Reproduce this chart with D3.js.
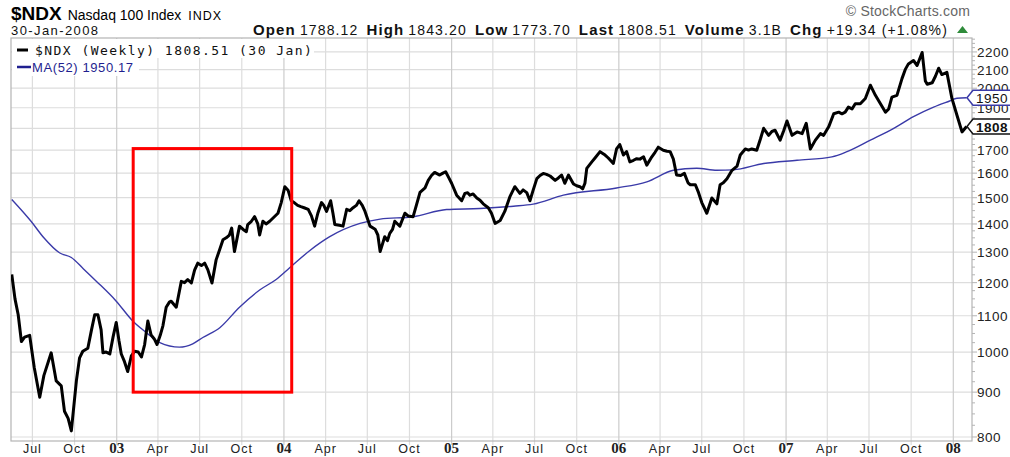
<!DOCTYPE html>
<html><head><meta charset="utf-8">
<script src="https://cdn.jsdelivr.net/npm/d3@7"></script>
<style>body{margin:0;background:#fff}svg{display:block}text{font-family:Arial,"Liberation Sans",sans-serif}</style>
</head><body><div id="chart"></div>
<script>
const ndxDates = ["2002-05-17","2002-05-24","2002-05-31","2002-06-07","2002-06-14","2002-06-25","2002-07-05","2002-07-17","2002-07-26","2002-08-11","2002-08-22","2002-09-02","2002-09-09","2002-09-17","2002-09-24","2002-10-05","2002-10-12","2002-10-19","2002-10-30","2002-11-07","2002-11-14","2002-11-21","2002-11-28","2002-12-02","2002-12-09","2002-12-17","2002-12-24","2002-12-31","2003-01-06","2003-01-11","2003-01-18","2003-01-25","2003-02-02","2003-02-09","2003-02-17","2003-02-24","2003-03-03","2003-03-10","2003-03-17","2003-03-24","2003-03-30","2003-04-06","2003-04-12","2003-04-19","2003-04-26","2003-04-30","2003-05-11","2003-05-22","2003-05-29","2003-06-05","2003-06-13","2003-06-20","2003-06-27","2003-07-05","2003-07-12","2003-07-19","2003-07-28","2003-08-06","2003-08-14","2003-08-21","2003-08-28","2003-09-04","2003-09-09","2003-09-15","2003-09-26","2003-10-04","2003-10-11","2003-10-14","2003-10-22","2003-10-29","2003-11-05","2003-11-09","2003-11-16","2003-11-23","2003-12-01","2003-12-10","2003-12-19","2003-12-26","2004-01-03","2004-01-10","2004-01-17","2004-01-24","2004-01-31","2004-02-07","2004-02-14","2004-02-23","2004-03-01","2004-03-08","2004-03-15","2004-03-23","2004-03-28","2004-04-03","2004-04-12","2004-04-17","2004-04-21","2004-05-01","2004-05-09","2004-05-17","2004-05-24","2004-05-31","2004-06-07","2004-06-13","2004-06-20","2004-06-26","2004-07-07","2004-07-18","2004-07-24","2004-07-29","2004-08-08","2004-08-14","2004-08-19","2004-08-25","2004-08-30","2004-09-05","2004-09-10","2004-09-21","2004-09-28","2004-10-09","2004-10-16","2004-10-24","2004-11-04","2004-11-11","2004-11-18","2004-11-25","2004-12-06","2004-12-13","2004-12-19","2004-12-26","2005-01-01","2005-01-12","2005-01-23","2005-01-30","2005-02-05","2005-02-10","2005-02-17","2005-02-25","2005-03-04","2005-03-11","2005-03-22","2005-03-29","2005-04-06","2005-04-17","2005-04-27","2005-05-08","2005-05-19","2005-05-30","2005-06-06","2005-06-14","2005-06-21","2005-06-28","2005-07-06","2005-07-13","2005-07-20","2005-07-27","2005-08-04","2005-08-15","2005-08-22","2005-08-29","2005-09-05","2005-09-13","2005-09-24","2005-10-01","2005-10-08","2005-10-14","2005-10-19","2005-10-23","2005-11-03","2005-11-10","2005-11-21","2005-12-02","2005-12-09","2005-12-20","2005-12-27","2006-01-03","2006-01-11","2006-01-18","2006-01-25","2006-02-02","2006-02-09","2006-02-16","2006-02-24","2006-03-03","2006-03-14","2006-03-21","2006-03-28","2006-04-08","2006-04-16","2006-04-23","2006-04-30","2006-05-07","2006-05-16","2006-05-24","2006-06-01","2006-06-06","2006-06-17","2006-06-24","2006-07-01","2006-07-12","2006-07-23","2006-08-03","2006-08-10","2006-08-17","2006-08-25","2006-09-05","2006-09-16","2006-09-23","2006-10-04","2006-10-11","2006-10-18","2006-10-29","2006-11-06","2006-11-13","2006-11-24","2006-12-01","2006-12-08","2006-12-19","2006-12-27","2007-01-03","2007-01-14","2007-01-25","2007-02-05","2007-02-14","2007-02-23","2007-03-06","2007-03-17","2007-03-24","2007-04-04","2007-04-15","2007-04-26","2007-05-03","2007-05-10","2007-05-17","2007-05-25","2007-06-01","2007-06-12","2007-06-23","2007-07-04","2007-07-15","2007-07-26","2007-08-06","2007-08-13","2007-08-20","2007-08-31","2007-09-11","2007-09-18","2007-09-25","2007-10-06","2007-10-14","2007-10-25","2007-11-01","2007-11-05","2007-11-16","2007-11-23","2007-11-30","2007-12-07","2007-12-18","2007-12-29","2008-01-09","2008-01-20","2008-01-30"];
const ndxValues = [1226,1150,1103,1028,1040,1045,960,888,940,998,927,915,856,840,813,927,985,1002,1010,1060,1103,1103,1060,998,1000,995,1040,1081,1030,995,975,950,990,1002,1000,987,1020,1085,1046,1035,1020,1045,1072,1125,1140,1143,1125,1204,1200,1210,1199,1240,1263,1255,1263,1241,1199,1274,1310,1343,1350,1360,1385,1302,1392,1380,1372,1398,1410,1427,1400,1360,1410,1400,1410,1425,1440,1480,1544,1530,1488,1480,1470,1465,1461,1455,1430,1392,1440,1481,1470,1447,1488,1440,1398,1395,1392,1455,1450,1461,1470,1488,1470,1447,1392,1381,1360,1302,1354,1340,1366,1380,1410,1400,1392,1440,1430,1427,1470,1521,1539,1570,1590,1603,1592,1600,1606,1580,1558,1510,1488,1517,1520,1510,1515,1499,1490,1476,1461,1440,1402,1413,1447,1503,1544,1517,1531,1520,1488,1530,1577,1590,1599,1595,1588,1570,1580,1592,1558,1592,1555,1548,1544,1535,1558,1620,1648,1665,1693,1678,1665,1641,1705,1725,1678,1693,1648,1655,1662,1660,1670,1634,1670,1690,1713,1699,1695,1693,1660,1592,1590,1599,1560,1552,1552,1520,1481,1440,1499,1476,1552,1560,1577,1612,1630,1678,1705,1700,1705,1699,1750,1800,1767,1785,1791,1745,1790,1835,1767,1783,1775,1824,1705,1745,1775,1767,1807,1870,1878,1870,1878,1903,1894,1920,1920,1947,2016,1963,1920,1878,1894,1954,1963,2051,2100,2132,2151,2123,2197,2038,2021,2029,2064,2108,2073,2085,1947,1863,1783,1808.51];
const maDates = ["2002-05-17","2002-06-28","2002-07-26","2002-08-29","2002-09-24","2002-10-20","2002-11-18","2002-12-31","2003-02-05","2003-03-06","2003-04-05","2003-05-18","2003-06-16","2003-07-08","2003-08-14","2003-09-26","2003-11-09","2003-12-15","2004-01-13","2004-02-26","2004-04-10","2004-06-15","2004-07-29","2004-10-09","2004-12-21","2005-03-04","2005-05-16","2005-06-28","2005-09-02","2005-12-27","2006-03-03","2006-04-30","2006-06-20","2006-08-03","2006-09-08","2006-11-13","2007-01-25","2007-04-11","2007-05-14","2007-07-04","2007-08-24","2007-10-06","2007-11-19","2007-12-24","2008-01-09","2008-01-30"];
const maValues = [1493,1410,1350,1298,1282,1245,1204,1143,1085,1053,1025,1013,1022,1039,1066,1125,1177,1210,1247,1305,1354,1402,1418,1427,1454,1458,1467,1475,1510,1539,1564,1612,1621,1612,1614,1641,1655,1670,1693,1745,1800,1856,1903,1934,1948,1950.17];
const yTickValues = [800,900,1000,1100,1200,1300,1400,1500,1600,1700,1800,1900,2000,2100,2200];
const yTickLabels = ["800","900","1000","1100","1200","1300","1400","1500","1600","1700","1800","1900","2000","2100","2200"];
const xTickLabels = ["Jul","Oct","03","Apr","Jul","Oct","04","Apr","Jul","Oct","05","Apr","Jul","Oct","06","Apr","Jul","Oct","07","Apr","Jul","Oct","08"];
const boxDates = ["2003-02-06","2004-01-18"];
const boxValues = [1700, 900];
const headerStats = [["Open","1788.12"],["High","1843.20"],["Low","1773.70"],["Last","1808.51"],["Volume","3.1B"],["Chg","+19.34 (+1.08%)"]];

const W=1010,H=457, L=11, R=972, T=38, B=441;
const parse = d3.timeParse("%Y-%m-%d");
const svg = d3.select("#chart").append("svg").attr("width",W).attr("height",H);
const x = d3.scaleTime().domain([new Date(2003,0,1), new Date(2008,0,1)]).range([116.7, 953.3]);
const y = d3.scaleLog().domain([791.6, 2282]).range([B, T]);

// grid
const xTicks = d3.timeMonths(new Date(2002,6,1), new Date(2008,0,2), 3);
const g = svg.append("g");
g.selectAll(".hg").data(yTickValues).join("line")
  .attr("x1",L).attr("x2",R).attr("y1",d=>y(d)).attr("y2",d=>y(d))
  .attr("stroke","#dddddd").attr("stroke-width",1.2);
g.selectAll(".vg").data(xTicks).join("line")
  .attr("x1",d=>x(d)).attr("x2",d=>x(d)).attr("y1",T).attr("y2",B+4)
  .attr("stroke",d=>d.getMonth()===0?"#cccccc":"#dddddd").attr("stroke-width",1.2);
// frame
svg.append("rect").attr("x",L).attr("y",T).attr("width",R-L).attr("height",B-T)
  .attr("fill","none").attr("stroke","#b4b4b4").attr("stroke-width",1.2);

// minor ticks on right axis
const minor = d3.range(800, 2276, 25).filter(v=>v%100!==0);
svg.selectAll(".mt").data(minor).join("line").attr("x1",R).attr("x2",R+3)
  .attr("y1",d=>y(d)).attr("y2",d=>y(d)).attr("stroke","#b4b4b4");
svg.selectAll(".Mt").data(yTickValues).join("line").attr("x1",R).attr("x2",R+5)
  .attr("y1",d=>y(d)).attr("y2",d=>y(d)).attr("stroke","#b4b4b4");
svg.selectAll(".yl").data(yTickValues).join("text")
  .attr("x",977).attr("y",d=>y(d)+5).attr("font-size",13.5).attr("letter-spacing",0.5)
  .attr("fill","#222").text((d,i)=>yTickLabels[i]);

// x labels
svg.selectAll(".xl").data(xTicks).join("text")
  .attr("x",d=>x(d)).attr("y",453).attr("text-anchor","middle")
  .attr("font-size",d=>d.getMonth()===0?15:12.5)
  .attr("font-weight",d=>d.getMonth()===0?"bold":"normal")
  .style("font-family",d=>d.getMonth()===0?"'Liberation Serif','Times New Roman',serif":null)
  .attr("letter-spacing",d=>d.getMonth()===0?0:1)
  .attr("fill","#222").text((d,i)=>xTickLabels[i]);

// clip
svg.append("clipPath").attr("id","clip").append("rect").attr("x",L).attr("y",T).attr("width",R-L).attr("height",B-T);

// legend backgrounds
const leg = svg.append("g");
leg.append("rect").attr("x",L+1).attr("y",T+1).attr("width",302).attr("height",19).attr("fill","#fff");
leg.append("rect").attr("x",L+1).attr("y",T+20).attr("width",127).attr("height",18).attr("fill","#fff");

// lines
const ndx = ndxDates.map((d,i)=>({date:parse(d), value:ndxValues[i]}));
const ma = maDates.map((d,i)=>({date:parse(d), value:maValues[i]}));
const line = d3.line().x(d=>x(d.date)).y(d=>y(d.value));
const lineMA = d3.line().curve(d3.curveMonotoneX).x(d=>x(d.date)).y(d=>y(d.value));
svg.append("path").datum(ma).attr("clip-path","url(#clip)").attr("d",lineMA)
  .attr("fill","none").attr("stroke","#3a3aa8").attr("stroke-width",1.4);
svg.append("path").datum(ndx).attr("clip-path","url(#clip)").attr("d",line)
  .attr("fill","none").attr("stroke","#000").attr("stroke-width",3).attr("stroke-linejoin","round");

// red box
const bx0 = x(parse(boxDates[0])), bx1 = x(parse(boxDates[1]));
const by0 = y(boxValues[0]), by1 = y(boxValues[1]);
svg.append("rect").attr("x",bx0).attr("y",by0-1.5).attr("width",bx1-bx0).attr("height",by1-by0+1.5)
  .attr("fill","none").attr("stroke","#ff0000").attr("stroke-width",3);

// legend
leg.append("line").attr("x1",17).attr("x2",28).attr("y1",50).attr("y2",50).attr("stroke","#000").attr("stroke-width",3);
svg.append("text").attr("x",35).attr("y",55).style("font-family","'DejaVu Sans Mono',monospace")
  .attr("font-size",13).attr("letter-spacing",1.45).attr("fill","#111")
  .text("$NDX (Weekly) " + ndxValues[ndxValues.length-1].toFixed(2) + " (30 Jan)");
svg.append("line").attr("x1",17).attr("x2",31).attr("y1",67).attr("y2",67).attr("stroke","#1f1f8f").attr("stroke-width",2.5);
svg.append("text").attr("x",32).attr("y",72).attr("font-size",13).attr("letter-spacing",0.6).attr("fill","#1f1f8f")
  .text("MA(52) " + maValues[maValues.length-1].toFixed(2));

// tags
function tag(v, label, stroke, bold){
  const yy = y(v);
  svg.append("path").attr("d",`M${R-5},${yy} L${R+1},${yy-7.5} L${W+2},${yy-7.5} L${W+2},${yy+7.5} L${R+1},${yy+7.5} Z`)
    .attr("fill","#fff").attr("stroke",stroke).attr("stroke-width",1.5);
  svg.append("text").attr("x",976).attr("y",yy+5).attr("font-size",13.5).attr("letter-spacing",0.5)
    .attr("font-weight",bold?"bold":"normal").attr("fill","#111").text(label);
}
tag(maValues[maValues.length-1], "1950", "#3a3aa8", false);
tag(ndxValues[ndxValues.length-1], "1808", "#111", true);

// header
const h = svg.append("text").attr("x",11).attr("y",20);
h.append("tspan").attr("font-size",19).attr("font-weight","bold").text("$NDX");
h.append("tspan").attr("font-size",14).attr("dx",6).text("Nasdaq 100 Index");
h.append("tspan").attr("font-size",12.5).attr("dx",7).attr("letter-spacing",1).text("INDX");
svg.append("text").attr("x",11).attr("y",35).attr("font-size",13).attr("letter-spacing",1.4).attr("fill","#111").text("30-Jan-2008");
svg.append("text").attr("x",970).attr("y",16).attr("text-anchor","end").attr("font-size",14).attr("letter-spacing",0.2).attr("fill","#666").text("© StockCharts.com");
const st = svg.append("text").attr("x",253).attr("y",35).attr("fill","#111");
const spans = [];
headerStats.forEach((p,i)=>{
  spans.push(st.append("tspan").attr("font-size",15).attr("font-weight","bold").attr("dx",i?8:0).text(p[0]));
  spans.push(st.append("tspan").attr("font-size",14).attr("dx",4).text(p[1]));
});
// spread the header so its right end reaches just left of the arrow, as in the reference
const target = 948;
let ls = 0;
for (let k=0;k<3;k++){
  const bb = st.node().getBBox();
  const nChars = headerStats.reduce((a,p)=>a+p[0].length+p[1].length,0);
  ls += (target - (bb.x+bb.width))/nChars;
  spans.forEach(s=>s.attr("letter-spacing",ls));
}
svg.append("path").attr("d","M957,33 L962.5,26 L968,33 Z").attr("fill","#2e8b3a");
</script></body></html>
